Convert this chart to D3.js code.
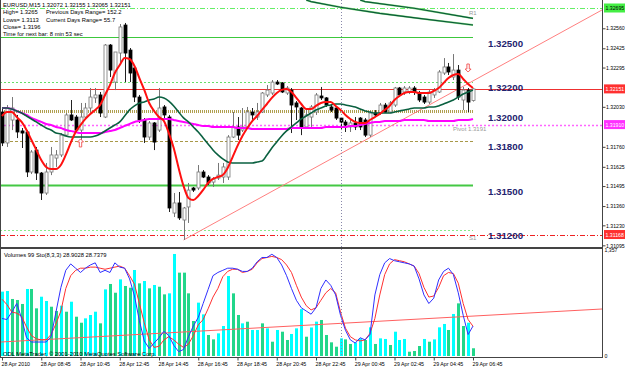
<!DOCTYPE html>
<html>
<head>
<meta charset="utf-8">
<script src="https://cdn.jsdelivr.net/npm/d3@7"></script>
<style>
body { margin: 0; background: #fff; }
text { font-family: "Liberation Sans", Arial, sans-serif; }
</style>
</head>
<body>
<svg id="chart" width="625" height="370"></svg>
<script>
// EURUSD M15, 28 Apr 2010 06:45 .. 29 Apr 06:45 (97 bars)
var opens = [1.31995,1.31786,1.31941,1.31941,1.31867,1.31860,1.31590,1.31738,1.31583,1.31448,
  1.31590,1.31684,1.31705,1.31839,1.31975,1.31961,1.31873,1.31961,1.32022,1.32090,
  1.32110,1.31961,1.32447,1.32197,1.32393,1.32582,1.32413,1.32292,1.32096,1.31941,
  1.31826,1.31921,1.31873,1.32029,1.31961,1.31313,1.31381,1.31266,1.31354,1.31482,
  1.31482,1.31590,1.31556,1.31522,1.31549,1.31556,1.31556,1.31826,1.31894,1.31873,
  1.31894,1.31995,1.31961,1.31995,1.32110,1.32123,1.32197,1.32191,1.32123,1.32143,
  1.32056,1.32022,1.31894,1.31961,1.31995,1.32103,1.32090,1.32029,1.32022,1.31954,
  1.31927,1.31894,1.31921,1.31954,1.31941,1.31839,1.31988,1.31988,1.32042,1.31995,
  1.32042,1.32157,1.32130,1.32130,1.32157,1.32123,1.32096,1.32062,1.32110,1.32130,
  1.32258,1.32299,1.32231,1.32278,1.32076,1.32143,1.32072];
var highs = [1.32022,1.32042,1.32096,1.31975,1.31887,1.31873,1.31738,1.31759,1.31590,1.31651,
  1.31759,1.31738,1.31853,1.31988,1.32076,1.31975,1.32056,1.32056,1.32157,1.32157,
  1.32130,1.32454,1.32454,1.32400,1.32589,1.32596,1.32427,1.32305,1.32110,1.31954,
  1.31934,1.31927,1.32157,1.32042,1.31975,1.31448,1.31455,1.31354,1.31516,1.31489,
  1.31637,1.31603,1.31569,1.31556,1.31651,1.31651,1.31839,1.31995,1.31961,1.32022,
  1.32029,1.32022,1.32056,1.32130,1.32177,1.32211,1.32211,1.32197,1.32170,1.32157,
  1.32069,1.32029,1.32008,1.32042,1.32123,1.32164,1.32096,1.32042,1.32029,1.31961,
  1.31941,1.31941,1.31961,1.31961,1.31954,1.32002,1.32008,1.32056,1.32056,1.32069,
  1.32164,1.32164,1.32170,1.32170,1.32170,1.32137,1.32110,1.32143,1.32157,1.32278,
  1.32359,1.32326,1.32386,1.32312,1.32164,1.32157,1.32155];
var lows = [1.31765,1.31759,1.31873,1.31819,1.31752,1.31556,1.31576,1.31536,1.31401,1.31435,
  1.31569,1.31624,1.31691,1.31826,1.31934,1.31860,1.31806,1.31954,1.31995,1.32056,
  1.31961,1.31954,1.32231,1.32143,1.32326,1.32197,1.32197,1.32062,1.31921,1.31786,
  1.31806,1.31738,1.31860,1.31954,1.31320,1.31286,1.31266,1.31131,1.31246,1.31455,
  1.31468,1.31549,1.31502,1.31489,1.31536,1.31516,1.31536,1.31819,1.31806,1.31860,
  1.31887,1.31941,1.31941,1.31988,1.32096,1.32110,1.32177,1.32123,1.32110,1.31853,
  1.31941,1.31839,1.31887,1.31894,1.31975,1.32076,1.32029,1.31995,1.31941,1.31873,
  1.31860,1.31860,1.31873,1.31873,1.31826,1.31826,1.31961,1.31975,1.31988,1.31988,
  1.32029,1.32096,1.32110,1.32116,1.32110,1.32062,1.32049,1.32049,1.32090,1.32123,
  1.32245,1.32245,1.32211,1.32076,1.32008,1.31995,1.32065];
var closes = [1.31786,1.32022,1.32022,1.31860,1.31853,1.31590,1.31725,1.31583,1.31448,1.31590,
  1.31705,1.31705,1.31839,1.31975,1.31941,1.31873,1.31961,1.32022,1.32096,1.32110,
  1.31988,1.32447,1.32278,1.32400,1.32569,1.32393,1.32258,1.32096,1.31941,1.31826,
  1.31921,1.31792,1.32022,1.31975,1.31347,1.31381,1.31280,1.31347,1.31468,1.31468,
  1.31590,1.31556,1.31516,1.31543,1.31569,1.31624,1.31826,1.31894,1.31839,1.31894,
  1.31995,1.31975,1.31995,1.32123,1.32143,1.32197,1.32184,1.32130,1.32157,1.32042,
  1.32029,1.31894,1.31975,1.32029,1.32110,1.32090,1.32042,1.32008,1.31954,1.31927,
  1.31907,1.31921,1.31894,1.31894,1.31839,1.31988,1.31975,1.32042,1.31995,1.32056,
  1.32157,1.32110,1.32157,1.32157,1.32130,1.32076,1.32062,1.32130,1.32143,1.32265,
  1.32299,1.32265,1.32278,1.32096,1.32143,1.32062,1.32151];

// moving averages
var maFast = [1.31968,1.31995,1.31995,1.31961,1.31928,1.31874,1.31806,1.31739,1.31671,1.31624,
  1.31610,1.31610,1.31637,1.31705,1.31786,1.31860,1.31907,1.31948,1.31982,1.32009,
  1.32042,1.32110,1.32177,1.32258,1.32312,1.32360,1.32353,1.32306,1.32224,1.32144,
  1.32056,1.32002,1.31961,1.31934,1.31853,1.31752,1.31617,1.31496,1.31415,1.31401,
  1.31428,1.31469,1.31516,1.31543,1.31556,1.31570,1.31617,1.31691,1.31766,1.31833,
  1.31887,1.31934,1.31968,1.32009,1.32049,1.32090,1.32123,1.32144,1.32150,1.32130,
  1.32090,1.32049,1.32015,1.32015,1.32036,1.32056,1.32063,1.32063,1.32036,1.32009,
  1.31975,1.31948,1.31928,1.31921,1.31921,1.31941,1.31961,1.31982,1.32009,1.32036,
  1.32076,1.32103,1.32123,1.32130,1.32130,1.32123,1.32123,1.32123,1.32137,1.32157,
  1.32191,1.32224,1.32245,1.32252,1.32218,1.32184,1.32157];
var maMid = [1.32022,1.32022,1.32015,1.32002,1.31988,1.31968,1.31948,1.31928,1.31907,1.31887,
  1.31874,1.31853,1.31847,1.31833,1.31826,1.31826,1.31826,1.31826,1.31826,1.31833,
  1.31847,1.31867,1.31887,1.31907,1.31928,1.31968,1.32009,1.32036,1.32056,1.32063,
  1.32076,1.32083,1.32096,1.32090,1.32069,1.32036,1.31995,1.31955,1.31928,1.31894,
  1.31860,1.31820,1.31779,1.31739,1.31705,1.31678,1.31658,1.31651,1.31651,1.31651,
  1.31651,1.31651,1.31658,1.31664,1.31705,1.31752,1.31793,1.31833,1.31867,1.31894,
  1.31921,1.31948,1.31968,1.31988,1.32009,1.32022,1.32036,1.32042,1.32049,1.32049,
  1.32042,1.32036,1.32029,1.32015,1.32002,1.31995,1.31988,1.31988,1.31988,1.31988,
  1.31995,1.32002,1.32009,1.32015,1.32022,1.32022,1.32022,1.32029,1.32029,1.32036,
  1.32049,1.32063,1.32076,1.32096,1.32117,1.32130,1.32144];
var maSlow = [1.32022,1.32022,1.32015,1.32002,1.31988,1.31975,1.31955,1.31941,1.31928,1.31914,
  1.31907,1.31894,1.31887,1.31874,1.31867,1.31860,1.31853,1.31853,1.31853,1.31853,
  1.31853,1.31860,1.31867,1.31874,1.31887,1.31901,1.31914,1.31928,1.31934,1.31941,
  1.31948,1.31948,1.31948,1.31948,1.31948,1.31941,1.31934,1.31928,1.31921,1.31914,
  1.31907,1.31901,1.31901,1.31894,1.31894,1.31894,1.31894,1.31894,1.31887,1.31887,
  1.31887,1.31880,1.31880,1.31880,1.31880,1.31880,1.31880,1.31880,1.31880,1.31887,
  1.31887,1.31887,1.31887,1.31887,1.31887,1.31887,1.31894,1.31894,1.31894,1.31894,
  1.31894,1.31901,1.31901,1.31907,1.31914,1.31921,1.31928,1.31928,1.31934,1.31934,
  1.31934,1.31934,1.31941,1.31941,1.31941,1.31941,1.31941,1.31934,1.31934,1.31934,
  1.31934,1.31934,1.31934,1.31941,1.31941,1.31941,1.31948];
// two higher channel lines, points read as [bar, price]
var chanUpper = [[73, 1.32751], [74, 1.32740], [84, 1.32695], [96, 1.32627]];
var chanLower = [[62, 1.32751], [63, 1.32740], [69, 1.32702], [77, 1.32661], [85, 1.32627], [96, 1.32582]];

// volumes and stochastic (8,3,3)
var volumes = [824,832,730,717,666,858,858,610,759,704,631,576,644,567,695,503,426,482,525,567,
  418,853,922,810,981,896,874,1101,930,960,866,909,887,789,802,1306,1067,1067,802,448,
  683,533,269,213,290,384,1024,802,525,418,439,333,333,418,354,183,333,311,205,282,
  354,600,247,365,440,461,269,175,119,226,213,154,171,226,205,367,154,226,218,141,
  311,205,218,55,64,128,218,183,213,367,410,333,538,674,384,426,99];
var volUp = [1,1,0,0,0,1,0,0,1,1, 0,0,1,0,1,0,0,1,1,1, 0,1,0,0,1,0,0,1,0,1, 0,1,0,0,1,1,0,0,0,0,
  1,1,0,0,1,1,1,0,0,1, 0,1,1,0,1,0,1,0,0,1, 1,1,0,1,1,0,0,0,0,1, 0,0,1,1,0,1,0,1,1,0,
  1,1,1,0,0,0,1,0,1,1, 1,0,1,0,0,1,0];
var stochMain = [36,35,42,50,36,18,14,14,14,14, 19,42,65,81,87,83,79,83,86,88, 79,81,79,88,84,83,73,57,34,15,
  8,13,18,24,20,11,5,7,19,29, 37,50,63,76,79,81,83,83,82,80, 80,83,89,93,93,96,93,86,76,64,
  53,46,43,40,46,64,72,67,58,39, 25,16,13,18,16,21,58,77,88,92, 90,89,88,87,85,73,58,50,55,72,
  80,83,77,60,39,21,28.9028];
var stochSignal = [54,49,42,41,38,28,20,17,16,16, 21,31,43,64,76,81,83,83,84,84, 83,82,83,84,85,83,76,68,50,32,
  16,9,10,16,19,16,12,9,12,20, 30,35,45,56,64,75,80,82,82,79, 80,82,88,92,93,94,93,91,86,79,
  67,56,48,44,46,53,60,64,60,42, 27,19,16,15,16,22,36,58,77,87, 91,90,89,87,85,78,65,56,57,65,
  76,79,78,69,50,35,28.7379];

// levels and objects
var levels = [1.32500, 1.32200, 1.32000, 1.31800, 1.31500, 1.31200];
var pivots = [{name: "R1", price: 1.32697}, {name: "Pivot 1.3191", price: 1.31910}, {name: "S1", price: 1.31168}];
var bid = 1.32151;
var trendMain = [[37, 1.31131], [96, 1.32205]];
var trendVol = [[0, 180], [96, 511]];
var arrowsUp = [[16, 1.31786]];
var arrowsDown = [[95, 1.32292]];
var daySeparator = 69;

var priceTicks = [1.32560, 1.32425, 1.32295, 1.32030, 1.31760, 1.31625, 1.31495, 1.31360, 1.31230, 1.31095];
var timeTickBars = [0, 8, 16, 24, 32, 40, 48, 56, 64, 72, 80, 88, 96];
var timeLabels = ["28 Apr 2010", "28 Apr 08:45", "28 Apr 10:45", "28 Apr 12:45", "28 Apr 14:45", "28 Apr 16:45",
  "28 Apr 18:45", "28 Apr 20:45", "28 Apr 22:45", "29 Apr 00:45", "29 Apr 02:45", "29 Apr 04:45", "29 Apr 06:45"];
var infoLines = ["EURUSD,M15  1.32072 1.32155 1.32065 1.32151", "High= 1.3265", "Lows= 1.3113", "Close= 1.3196", "Time for next bar: 8 min 53 sec"];
var infoRight = ["Previous Days Range= 152.2", "Current Days Range= 55.7"];

var plotRight = 602;
var mainBottom = 248, subTop = 250, subBottom = 357;

var svg = d3.select('#chart');

var x = d3.scaleLinear().domain([0, 96]).range([2, 473]);
var y = d3.scaleLinear().domain([1.31077, 1.32751]).range([mainBottom, 0]);
var yVol = d3.scaleLinear().domain([0, 1357]).range([356, subTop]);
var yStoch = d3.scaleLinear().domain([0, 100]).range([subBottom, subTop]);

var defs = svg.append('defs');
defs.append('clipPath').attr('id', 'clipMain').append('rect')
  .attr('x', 0).attr('y', 0).attr('width', plotRight).attr('height', mainBottom - 1);
defs.append('clipPath').attr('id', 'clipSub').append('rect')
  .attr('x', 0).attr('y', subTop).attr('width', plotRight).attr('height', subBottom - subTop);

var main = svg.append('g').attr('clip-path', 'url(#clipMain)');
var sub = svg.append('g').attr('clip-path', 'url(#clipSub)');

// level lines with labels
var levelStyles = [
  {stroke: '#3cc83c', w: 1.2, dash: null},
  {stroke: '#66dd66', w: 1, dash: '2,2'},
  {stroke: '#b0a050', w: 3, dash: '1,1'},
  {stroke: '#a89848', w: 1, dash: '3,2'},
  {stroke: '#44c844', w: 2, dash: null},
  {stroke: '#88e888', w: 1, dash: '2,2'}
];
levels.forEach(function (lv, k) {
  var s = levelStyles[k];
  main.append('line')
    .attr('x1', 0).attr('x2', x(96))
    .attr('y1', Math.round(y(lv)) + 0.5).attr('y2', Math.round(y(lv)) + 0.5)
    .style('stroke', s.stroke).style('stroke-width', s.w)
    .style('stroke-dasharray', s.dash);
  svg.append('text')
    .attr('x', 488).attr('y', y(lv) + 9.5)
    .style('font-size', '9.7px').style('font-weight', 'bold').style('fill', '#23236e')
    .text(lv.toFixed(5));
});

// pivot lines (full width)
var pivotColors = ['#66ee66', '#ff66ff', '#ee2222'];
var pivotDash = ['5,2,1,2', '2,2', '5,2,1,2'];
pivots.forEach(function (p, k) {
  main.append('line')
    .attr('x1', 0).attr('x2', plotRight)
    .attr('y1', Math.round(y(p.price)) + 0.5).attr('y2', Math.round(y(p.price)) + 0.5)
    .style('stroke', pivotColors[k]).style('stroke-width', k == 1 ? 1.5 : 1)
    .style('stroke-dasharray', pivotDash[k]);
});
svg.append('text').attr('x', 469).attr('y', 15).style('font-size', '6px').style('fill', '#999').text(pivots[0].name);
svg.append('text').attr('x', 453).attr('y', 131).style('font-size', '6px').style('fill', '#999').text(pivots[1].name);
svg.append('text').attr('x', 469).attr('y', 240).style('font-size', '6px').style('fill', '#999').text(pivots[2].name);

// bid line
main.append('line')
  .attr('x1', 0).attr('x2', plotRight)
  .attr('y1', Math.round(y(bid)) + 0.5).attr('y2', Math.round(y(bid)) + 0.5)
  .style('stroke', '#ee3030').style('stroke-width', 1);

// trend line in main window, extended to the right
function extend(a, b, xs, yscale) {
  var x1 = x(a[0]), y1 = yscale(a[1]), x2 = x(b[0]), y2 = yscale(b[1]);
  var k = (y2 - y1) / (x2 - x1);
  return [x1, y1, xs, y1 + k * (xs - x1)];
}
var t = extend(trendMain[0], trendMain[1], plotRight, y);
main.append('line').attr('x1', t[0]).attr('y1', t[1]).attr('x2', t[2]).attr('y2', t[3])
  .style('stroke', '#ff8080').style('stroke-width', 1);

// day separator
svg.append('line')
  .attr('x1', Math.round(x(daySeparator)) + 0.5).attr('x2', Math.round(x(daySeparator)) + 0.5)
  .attr('y1', 0).attr('y2', subBottom)
  .style('stroke', '#8888aa').style('stroke-dasharray', '1,2');

// channel lines
var chanLine = d3.line().x(function (d) { return x(d[0]); }).y(function (d) { return y(d[1]); });
[chanUpper, chanLower].forEach(function (c) {
  main.append('path').attr('d', chanLine(c))
    .style('fill', 'none').style('stroke', '#7fd87f').style('stroke-width', 2);
  main.append('path').attr('d', chanLine(c))
    .style('fill', 'none').style('stroke', '#0b5a3a').style('stroke-width', 1.1);
});

// candles
var bars = d3.range(opens.length);
var candle = main.selectAll('.candle').data(bars).enter().append('g').attr('class', 'candle');
candle.append('line')
  .attr('x1', function (i) { return Math.round(x(i)) + 0.5; })
  .attr('x2', function (i) { return Math.round(x(i)) + 0.5; })
  .attr('y1', function (i) { return y(highs[i]); })
  .attr('y2', function (i) { return y(lows[i]); })
  .style('stroke', function (i) { return closes[i] >= opens[i] ? '#777' : '#222'; });
candle.append('rect')
  .attr('x', function (i) { return Math.round(x(i)) - 1; })
  .attr('width', 3)
  .attr('y', function (i) { return y(Math.max(opens[i], closes[i])); })
  .attr('height', function (i) { return Math.max(1, Math.abs(y(opens[i]) - y(closes[i]))); })
  .style('fill', function (i) { return closes[i] >= opens[i] ? '#fff' : '#000'; })
  .style('stroke', function (i) { return closes[i] >= opens[i] ? '#777' : '#000'; })
  .style('stroke-width', 0.8);

// moving averages
function maPath(arr) {
  return d3.line().x(function (d, i) { return x(i); }).y(function (d) { return y(d); })
    .curve(d3.curveMonotoneX)(arr);
}
main.append('path').attr('d', maPath(maSlow)).style('fill', 'none').style('stroke', '#ff00ff').style('stroke-width', 2);
main.append('path').attr('d', maPath(maMid)).style('fill', 'none').style('stroke', '#0a6040').style('stroke-width', 1.6);
main.append('path').attr('d', maPath(maFast)).style('fill', 'none').style('stroke', '#ff1010').style('stroke-width', 2);

// signal arrows
function arrow(g, cx, cy, dir) {
  var p = [[0, -4], [3, -1], [1.2, -1], [1.2, 4], [-1.2, 4], [-1.2, -1], [-3, -1]];
  g.append('path')
    .attr('d', 'M' + p.map(function (q) { return [cx + q[0], cy + q[1] * dir]; }).join('L') + 'Z')
    .style('fill', '#fff').style('stroke', '#f05050').style('stroke-width', 0.9);
}
arrowsUp.forEach(function (a) { arrow(main, x(a[0]), y(a[1]), 1); });
arrowsDown.forEach(function (a) { arrow(main, x(a[0]), y(a[1]), -1); });

// sub window: volumes
sub.selectAll('.vol').data(volumes).enter().append('rect')
  .attr('x', function (d, i) { return Math.round(x(i)) - 1; })
  .attr('width', 3)
  .attr('y', function (d) { return yVol(d); })
  .attr('height', function (d) { return yVol(0) - yVol(d); })
  .style('fill', function (d, i) { return volUp[i] ? '#00ffff' : '#22d68a'; });

var tv = extend(trendVol[0], trendVol[1], plotRight, yVol);
var tv0 = extend(trendVol[1], trendVol[0], 0, yVol);
sub.append('line').attr('x1', 0).attr('y1', tv0[3]).attr('x2', tv[2]).attr('y2', tv[3])
  .style('stroke', '#ff6060').style('stroke-width', 1);

var stLine = d3.line().x(function (d, i) { return x(i); }).y(function (d) { return yStoch(d); });
sub.append('path').attr('d', stLine(stochSignal)).style('fill', 'none').style('stroke', '#ff3030').style('stroke-width', 1);
sub.append('path').attr('d', stLine(stochMain)).style('fill', 'none').style('stroke', '#3030ff').style('stroke-width', 1);

// frame
svg.append('line').attr('x1', 0.5).attr('x2', 0.5).attr('y1', 0).attr('y2', subBottom + 1).style('stroke', '#444');
svg.append('line').attr('x1', plotRight + 0.5).attr('x2', plotRight + 0.5).attr('y1', 0).attr('y2', subBottom + 1).style('stroke', '#444');
svg.append('rect').attr('x', 0).attr('y', mainBottom - 1).attr('width', plotRight + 1).attr('height', 2).style('fill', '#444');
svg.append('line').attr('x1', 0).attr('x2', plotRight + 1).attr('y1', subBottom + 0.5).attr('y2', subBottom + 0.5).style('stroke', '#444');

// price axis
var yAxis = d3.axisRight(y).tickValues(priceTicks).tickSize(3).tickFormat(d3.format('.5f'));
var ga = svg.append('g').attr('transform', 'translate(' + (plotRight + 0.5) + ',0)').call(yAxis);
ga.select('.domain').remove();
ga.selectAll('text').attr('x', 3.5).style('font-size', '5.2px').style('fill', '#000');
ga.selectAll('line').style('stroke', '#444');

// price boxes
var boxes = [
  {price: pivots[0].price, fill: '#44ee44', color: '#000', label: '1.32695'},
  {price: bid, fill: '#ff3030', color: '#fff', label: '1.32151'},
  {price: pivots[1].price, fill: '#ff30ff', color: '#fff', label: '1.31910'},
  {price: pivots[2].price, fill: '#ff3030', color: '#fff', label: '1.31168'}
];
boxes.forEach(function (b) {
  var yy = y(b.price);
  svg.append('rect').attr('x', plotRight + 2).attr('y', yy - 4.5).attr('width', 23).attr('height', 9).style('fill', b.fill);
  svg.append('text').attr('x', plotRight + 3.5).attr('y', yy + 2).style('font-size', '5.2px').style('fill', b.color).text(b.label);
});

// volume axis
var vAxis = d3.axisRight(yVol).tickValues([0, 1357]).tickSize(0);
var gv = svg.append('g').attr('transform', 'translate(' + (plotRight + 0.5) + ',0)').call(vAxis);
gv.select('.domain').remove();
gv.selectAll('text').attr('x', 2).style('font-size', '5.2px').style('fill', '#000');

// time axis
var xAxis = d3.axisBottom(x).tickValues(timeTickBars).tickSize(3)
  .tickFormat(function (d, k) { return timeLabels[k]; });
var gx = svg.append('g').attr('transform', 'translate(0,' + (subBottom + 0.5) + ')').call(xAxis);
gx.select('.domain').remove();
gx.selectAll('text').attr('y', 5).attr('dy', '0.71em').style('text-anchor', 'start')
  .attr('x', -1).style('font-size', '5.3px').style('fill', '#000');
gx.selectAll('line').style('stroke', '#444');

// info texts
var info = svg.append('g').style('font-size', '5.8px').style('fill', '#000');
infoLines.forEach(function (s, k) {
  info.append('text').attr('x', 3).attr('y', 7 + k * 7.3).text(s);
});
infoRight.forEach(function (s, k) {
  info.append('text').attr('x', 46).attr('y', 14.3 + k * 7.3).text(s);
});
info.append('text').attr('x', 4).attr('y', 257).text('Volumes 99  Sto(8,3,3) 28.9028 28.7379');
info.append('text').attr('x', 3).attr('y', 356).text('ODL MetaTrader, \u00a9 2001-2010 MetaQuotes Software Corp.');
</script>
</body>
</html>
